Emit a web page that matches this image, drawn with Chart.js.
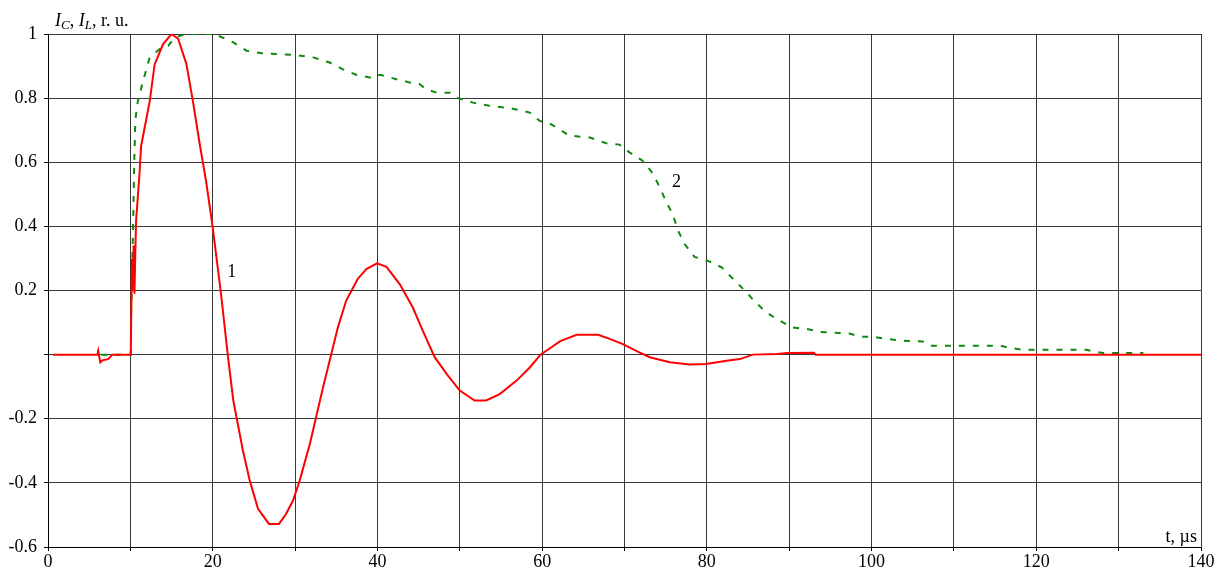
<!DOCTYPE html>
<html>
<head>
<meta charset="utf-8">
<script src="https://cdn.jsdelivr.net/npm/chart.js@4.4.1/dist/chart.umd.min.js"></script>
<style>
  body { margin: 0; background: #fff; }
  #wrap { width: 1222px; height: 570px; }
</style>
</head>
<body>
<div id="wrap"><canvas id="chart" width="1222" height="570"></canvas></div>
<script>
// --- Data: curve 1 (I_C, red) ---
const redT = [0.6, 6.0, 6.1, 6.35, 6.6, 7.3, 7.8, 10.05, 10.1, 10.2, 10.3, 10.4, 10.5, 10.6, 10.7, 11.1, 11.3,
  12.35, 12.95, 13.96, 15.0, 15.8, 16.8, 17.6, 18.4, 19.2, 20.0, 21.05, 21.86, 22.5, 23.67, 24.5, 25.5,
  26.83, 28.05, 28.9, 29.75, 30.56, 31.8, 32.6, 33.4, 34.4, 35.2, 36.2, 37.6, 38.65, 39.95, 41.1, 42.7,
  44.3, 45.5, 46.95, 48.4, 50.0, 51.8, 53.2, 54.85, 56.9, 58.5, 59.8, 61.3, 62.2, 64.2, 66.8, 68.2, 69.8,
  71.8, 73.05, 75.5, 77.9, 79.9, 82.4, 84.0, 85.6, 88.5, 89.8, 93.0, 93.2, 140];
const redI = [0, 0, 0.012, -0.024, -0.018, -0.014, 0, 0, 0.11, 0.30, 0.20, 0.34, 0.19, 0.32, 0.42, 0.56, 0.65,
  0.79, 0.905, 0.968, 1.0, 0.985, 0.907, 0.79, 0.66, 0.54, 0.397, 0.18, -0.008, -0.143, -0.30, -0.393, -0.481,
  -0.528, -0.528, -0.497, -0.455, -0.393, -0.278, -0.19, -0.102, 0.002, 0.085, 0.168, 0.236, 0.267, 0.285, 0.274, 0.22,
  0.147, 0.075, -0.008, -0.06, -0.112, -0.143, -0.143, -0.123, -0.081, -0.04, 0.0, 0.026, 0.042, 0.062, 0.062, 0.049, 0.033,
  0.007, -0.008, -0.024, -0.031, -0.029, -0.019, -0.014, 0, 0.002, 0.005, 0.006, 0, 0];

// --- Data: curve 2 (I_L, green dashed) ---
const greenT = [6.5, 7.8, 10.05, 10.1, 10.3, 10.45, 10.6, 10.9, 11.55, 12.35, 13.56, 14.6, 15.4, 16.8, 20.2,
  22.5, 24.1, 26.0, 28.1, 29.75, 32.2, 34.2, 35.8, 37.4, 39.5, 40.3, 42.3, 43.9, 45.1, 45.9, 47.2, 48.8,
  49.8, 51.6, 53.6, 56.1, 58.5, 59.7, 60.9, 62.1, 63.3, 65.8, 67.8, 69.4, 70.6, 72.2, 73.5, 74.3, 75.1,
  75.9, 76.5, 77.3, 78.5, 80.3, 81.8, 83.2, 84.6, 85.8, 87.2, 88.85, 90.3, 92.1, 94.1, 97.3, 98.55, 100.2,
  101.8, 103.8, 106.2, 107.2, 115.6, 116.8, 118.4, 126.1, 126.9, 128.1, 133.0];
const greenI = [0, 0, 0, 0.137, 0.355, 0.574, 0.73, 0.79, 0.854, 0.927, 0.953, 0.963, 0.989, 1.0, 1.0,
  0.974, 0.948, 0.94, 0.937, 0.935, 0.927, 0.911, 0.89, 0.873, 0.862, 0.873, 0.859, 0.849, 0.844, 0.828, 0.817, 0.817,
  0.80, 0.786, 0.776, 0.769, 0.755, 0.729, 0.721, 0.703, 0.683, 0.677, 0.659, 0.655, 0.631, 0.605, 0.563, 0.52, 0.475,
  0.435, 0.387, 0.345, 0.305, 0.291, 0.272, 0.236, 0.2, 0.166, 0.132, 0.106, 0.085, 0.08, 0.07, 0.066, 0.056, 0.056,
  0.049, 0.043, 0.041, 0.028, 0.028, 0.021, 0.015, 0.015, 0.01, 0.005, 0.005];

// --- Curve labels (data coordinates) ---
const curveLabels = [
  { text: "1", t: 22.3, i: 0.257 },
  { text: "2", t: 76.3, i: 0.537 },
];

const toPoints = (xs, ys) => xs.map((x, k) => ({ x: x, y: ys[k] }));

const FONT = "'Liberation Serif', 'Times New Roman', serif";
const GRID = "rgba(0, 0, 0, 0.78)";

// --- Extra texts: axis captions and curve numbers ---
const textPlugin = {
  id: "texts",
  afterDraw(chart) {
    const ctx = chart.ctx;
    const xs = chart.scales.x;
    const ys = chart.scales.y;
    ctx.save();
    ctx.fillStyle = "#000";
    ctx.textBaseline = "alphabetic";

    // y caption: I_C, I_L, r. u.
    let x = 55;
    const base = 26;
    const parts = [
      { s: "I", f: "italic 18px " + FONT, dy: 0 },
      { s: "C", f: "italic 13px " + FONT, dy: 3 },
      { s: ", ", f: "18px " + FONT, dy: 0 },
      { s: "I", f: "italic 18px " + FONT, dy: 0 },
      { s: "L", f: "italic 13px " + FONT, dy: 3 },
      { s: ", r. u.", f: "18px " + FONT, dy: 0 },
    ];
    ctx.textAlign = "left";
    parts.forEach((p) => {
      ctx.font = p.f;
      ctx.fillText(p.s, x, base + p.dy);
      x += ctx.measureText(p.s).width;
    });

    // x caption
    ctx.font = "18px " + FONT;
    ctx.textAlign = "right";
    ctx.fillText("t, \u00b5s", 1197, 542);

    // curve numbers
    ctx.textAlign = "center";
    ctx.textBaseline = "middle";
    curveLabels.forEach((l) => {
      ctx.fillText(l.text, xs.getPixelForValue(l.t), ys.getPixelForValue(l.i));
    });
    ctx.restore();
  },
};

new Chart(document.getElementById("chart").getContext("2d"), {
  type: "line",
  data: {
    datasets: [
      {
        label: "1",
        data: toPoints(redT, redI),
        borderColor: "#ff0000",
        borderWidth: 2,
        pointRadius: 0,
        tension: 0,
      },
      {
        label: "2",
        data: toPoints(greenT, greenI),
        borderColor: "#118811",
        borderWidth: 2,
        borderDash: [6, 8],
        pointRadius: 0,
        tension: 0,
      },
    ],
  },
  options: {
    responsive: false,
    animation: false,
    layout: { padding: { top: 34, right: 21, left: 0, bottom: 0 } },
    plugins: { legend: { display: false }, tooltip: { enabled: false } },
    scales: {
      x: {
        type: "linear",
        min: 0,
        max: 140,
        afterFit: (scale) => { scale.height = 23; },
        ticks: {
          stepSize: 10,
          autoSkip: false,
          maxRotation: 0,
          padding: 0,
          color: "#000",
          font: { family: FONT, size: 18 },
          callback: (v) => (v % 20 === 0 ? String(v) : ""),
        },
        grid: { color: GRID, lineWidth: 1, tickLength: 4, tickColor: "#000" },
        border: { color: "#000", width: 1 },
      },
      y: {
        min: -0.6,
        max: 1,
        afterFit: (scale) => { scale.width = 48; },
        ticks: {
          stepSize: 0.2,
          padding: 7,
          color: "#000",
          font: { family: FONT, size: 18 },
          callback: (v) => {
            const r = Math.round(v * 10) / 10;
            return r === 0 ? "" : String(r);
          },
        },
        grid: { color: GRID, lineWidth: 1, tickLength: 4, tickColor: "#000" },
        border: { color: "#000", width: 1 },
      },
    },
  },
  plugins: [textPlugin],
});
</script>
</body>
</html>
